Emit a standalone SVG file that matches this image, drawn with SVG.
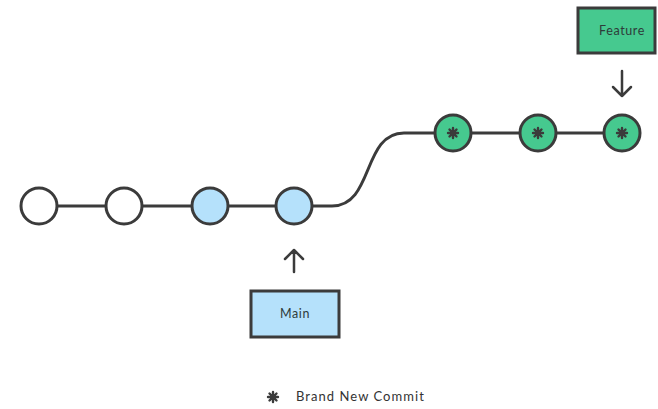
<svg xmlns="http://www.w3.org/2000/svg" xmlns:xlink="http://www.w3.org/1999/xlink" width="658" height="409" viewBox="0 0 658 409">
  <style>
    .commit { stroke: #3b3b3b; stroke-width: 3; }
    .old { fill: #ffffff; }
    .main { fill: #b5e1fb; }
    .feat { fill: #46c98f; }
    .edge { fill: none; stroke: #3b3b3b; stroke-width: 3; }
    .label { stroke: #3b3b3b; stroke-width: 3; }
    .arrow { fill: none; stroke: #3b3b3b; stroke-width: 2.5; stroke-linecap: round; stroke-linejoin: round; }
    .txt { font-family: "Lato", "Liberation Sans", sans-serif; font-size: 12.5px; fill: #2e3b3a; text-anchor: middle; letter-spacing: 0.6px; }
    .legend { font-family: "Lato", "Liberation Sans", sans-serif; font-size: 13px; fill: #333333; letter-spacing: 1.05px; }
  </style>
  <defs>
    <g id="star">
      <circle r="3.2" fill="#3b3b3b"/>
      <g stroke="#3b3b3b" stroke-width="2.4" stroke-linecap="round">
        <line x1="0" y1="-5" x2="0" y2="5"/>
        <line x1="-5" y1="0" x2="5" y2="0"/>
        <line x1="-3.5" y1="-3.5" x2="3.5" y2="3.5"/>
        <line x1="-3.5" y1="3.5" x2="3.5" y2="-3.5"/>
      </g>
    </g>
  </defs>

  <rect width="658" height="409" fill="#ffffff"/>

  <!-- history lines -->
  <g id="connectors">
    <path class="edge" d="M39 206 H312"/>
    <path class="edge" d="M312 206 H332 C374 206 362 133 404 133 H622"/>
    <path class="arrow" d="M622 71 V96 M613 87 L622 96 L631 87"/>
    <path class="arrow" d="M294 272 V250 M285 259 L294 250 L303 259"/>
  </g>

  <g id="c1"><circle class="commit old" cx="39" cy="206" r="18"/></g>
  <g id="c2"><circle class="commit old" cx="124" cy="206" r="18"/></g>
  <g id="c3"><circle class="commit main" cx="210" cy="206" r="18"/></g>
  <g id="c4"><circle class="commit main" cx="294" cy="206" r="18"/></g>

  <g id="f1"><circle class="commit feat" cx="453" cy="133" r="18"/><use xlink:href="#star" x="453" y="133"/></g>
  <g id="f2"><circle class="commit feat" cx="538" cy="133" r="18"/><use xlink:href="#star" x="538" y="133"/></g>
  <g id="f3"><circle class="commit feat" cx="622" cy="133" r="18"/><use xlink:href="#star" x="622" y="133"/></g>

  <g id="feature">
    <rect class="label feat" x="578" y="8" width="77" height="45"/>
    <text class="txt" x="622" y="35">Feature</text>
  </g>

  <g id="mainlabel">
    <rect class="label main" x="251" y="291" width="88" height="46"/>
    <text class="txt" x="295" y="318">Main</text>
  </g>

  <g id="legend">
    <use xlink:href="#star" x="273" y="397"/>
    <text class="legend" x="296" y="401">Brand New Commit</text>
  </g>
</svg>
